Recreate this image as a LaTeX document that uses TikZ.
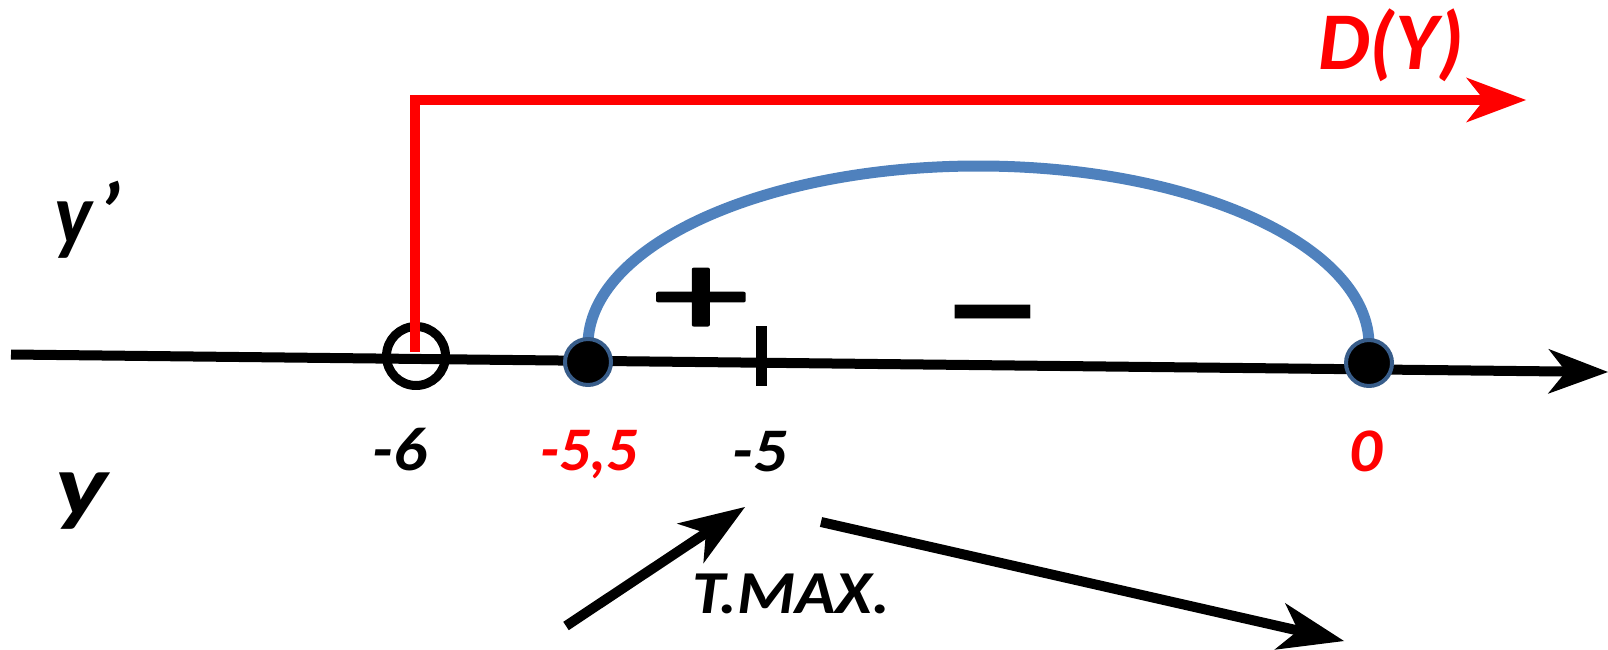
\documentclass[tikz,border=0pt]{standalone}
\usepackage{fontspec}
\setmainfont{Carlito}
\newfontfamily\hvfont{Carlito Bold Italic}
\newfontfamily\signfont{Carlito}[FakeBold=2.5]
\usetikzlibrary{arrows.meta}
\definecolor{myred}{HTML}{FF0000}
\definecolor{myblue}{HTML}{4F81BD}
\definecolor{dotborder}{HTML}{385D8A}
\begin{document}
\begin{tikzpicture}[x=1pt,y=-1pt, line join=round,
  lbl/.style={font=\hvfont\fontsize{62}{62}\selectfont, inner sep=0pt, anchor=base},
  big/.style={font=\hvfont\fontsize{88}{88}\selectfont, inner sep=0pt, anchor=base west},
  signs/.style={font=\signfont\fontsize{150}{150}\selectfont, inner sep=0pt},
  tipa/.style={-{Stealth[length=60pt,width=45pt,inset=18pt,line width=0pt]}},
  axisline/.style={line width=10pt, tipa},
  redline/.style={myred, line width=10pt, line join=miter, tipa},
  bluearc/.style={myblue, line width=11pt},
  blackarrow/.style={line width=10pt, -{Stealth[length=66pt,width=48pt,inset=19pt,line width=0pt]}},
  filleddot/.style={circle, fill=black, draw=dotborder, line width=4pt, minimum size=46pt, inner sep=0pt},
  opendot/.style={circle, draw=black, line width=9pt, minimum size=59pt, inner sep=0pt},
]
\useasboundingbox (0,0) rectangle (1608,650);
% axis
\coordinate (axL) at (11,354.5);
\coordinate (axR) at (1608,372);
\draw[axisline] (axL) -- (axR);
% tick at -5
\coordinate (tkT) at (761.5,326);
\coordinate (tkB) at (761.5,386);
\draw[line width=11pt] (tkT) -- (tkB);
% blue arc
\coordinate (aL) at (588,345);
\coordinate (aR) at (1369,345);
\draw[bluearc] (aL) arc[start angle=180,end angle=0,x radius=390.5pt,y radius=179pt];
% points
\node[opendot] (m6) at (416,356) {};
\node[filleddot] (m55) at (588,362) {};
\node[filleddot] (z0) at (1369,363) {};
% red domain
\coordinate (rB) at (414.5,352);
\coordinate (rE) at (1526,100);
\draw[redline] (rB) |- (rE);
% signs
\node[signs] (plus) at (701,302) {\scalebox{1.25}[0.8]{+}};
\node[signs, font=\bfseries\fontsize{150}{150}\selectfont] (minus) at (993.5,332.5) {\scalebox{1.3}[1.0]{−}};
% labels
\node[lbl] (l6) at (400,470) {\scalebox{1.08}[1]{-6}};
\node[lbl, text=myred] (l55) at (589,470) {-5,5};
\node[lbl] (l5) at (760,471) {\scalebox{1.08}[1]{-5}};
\node[lbl, text=myred] (l0) at (1366,471) {\scalebox{1.05}[1]{0}};
\node[big] (yp) at (54,244) {\scalebox{0.91}[1]{y}\hspace{6pt}’};
\node[big] (yy) at (55,515) {\scalebox{1.26}[1]{y}};
\node[font=\hvfont\fontsize{82}{82}\selectfont, inner sep=0pt, anchor=base west, text=myred] (dy) at (1318,70) {D(Y)};
\node[font=\hvfont\fontsize{61}{61}\selectfont, inner sep=0pt, anchor=base west] (tmax) at (692,613) {\scalebox{1.09}[1]{T.MAX.}};
% arrows
\coordinate (a1s) at (566,626);
\coordinate (a1e) at (745,507);
\draw[blackarrow] (a1s) -- (a1e);
\coordinate (a2s) at (821,522);
\coordinate (a2e) at (1344,641);
\draw[blackarrow] (a2s) -- (a2e);
\end{tikzpicture}
\end{document}
